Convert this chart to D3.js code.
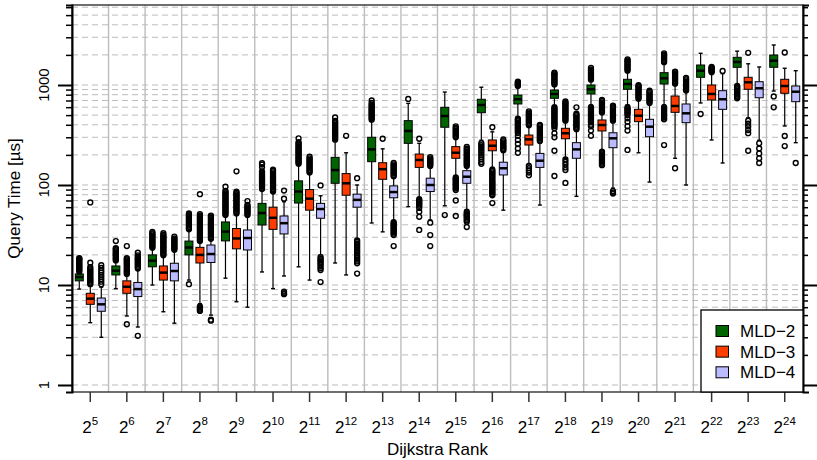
<!DOCTYPE html>
<html><head><meta charset="utf-8">
<script src="https://cdn.jsdelivr.net/npm/d3@7"></script>
<style>body{margin:0;background:#fff}svg{display:block}</style>
</head><body>
<script>
// ---------- DATA ----------
const ranks = [5,6,7,8,9,10,11,12,13,14,15,16,17,18,19,20,21,22,23,24];
const seriesNames = ["MLD\u22122", "MLD\u22123", "MLD\u22124"];
const seriesColors = ["#006400", "#ff3d00", "#bbbbff"];
const yMajorLabels = ["1", "10", "100", "1000"];
const xTitle = "Dijkstra Rank";
const yTitle = "Query Time [\u00b5s]";

// [lower whisker, q1, median, q3, upper whisker]
const mld2Stats = [
 [9.1,11.0,12.0,12.9,13.5],[9.2,12.6,13.9,15.5,17],[10,15.2,17.5,20,23],[11.2,20,23.7,27.5,35],
 [11.7,27.6,34.2,42.7,49],[13.5,39.8,52.4,65.5,89],[15.2,66,86,110,158],[16.6,104,141,189,282],
 [41.7,171,227,300,437],[60.7,261,347,440,655],[62,378,490,598,850],[280,528,631,720,950],
 [479,646,720,794,960],[620,736,813,891,977],[631,813,906,1000,1096],[631,906,1023,1140,1350],
 [630,1023,1167,1328,1660],[661,1194,1390,1585,2075],[1000,1503,1698,1892,2180],[870,1503,1750,1995,2512]
];
const mld2Outliers = [
 [13.6,14.0,14.4,14.8,15.2,15.6,16.0,16.4,16.9,17.4,17.9,18.3,18.6],
 [17.6,18.1,18.6,19.1,19.6,20.1,20.6,21.1,21.7,22.3,22.9,23.4,27.5],
 [23.6,24.3,25,25.7,26.4,27.1,27.9,28.7,29.5,30.3,31.2,32.1,33,34],
 [10.2,36,37,38.1,39.2,40.3,41.5,42.7,43.9,45.2,46.5,47.8,49.2,50.6,52],
 [50,51.5,53,54.6,56.2,57.9,59.6,61.4,63.2,65.1,67,69,71,73.2,75.3,77.6,79.9,82.3,84.7,87.3,96],
 [91,94,97,100,103,106,109,112,115,118.5,122,125.5,129,133,137,151,160,165],
 [163,168,173,178,183,188.5,194,200,206,212,218,224,231,238,245,252,260,268,293],
 [284,292,300,309,318,327,337,347,357,368,379,390,402,414,426,438,473],
 [450,464,478,492,507,522,538,554,570,587,604,622,641,661,700],
 [725],
 [50],
 [262,250,240,230,220,210,200,190,180,170,163],
 [975,1000,1020,1040,1060,1080,460,447,434,421,409,397,385,374,363,352,342,332,310,282,257,232,210],
 [1010,1040,1070,1100,1130,1165,1200,1235,1270,1300,1330,600,583,566,550,534,518,503,489,475,461,448,435,422,410,398,386,369,329,300,220,123],
 [1130,1165,1200,1235,1270,1310,1350,1390,1430,1486,600,583,566,550,534,518,503,489,475,461,448,435,422,400,386,350,310],
 [1390,1430,1475,1520,1565,1610,1660,1710,1760,1807,600,583,566,550,534,518,500,465,430,386,350,224],
 [1690,1740,1790,1840,1895,1950,2010,2075,600,583,566,550,534,518,503,489,475,461,454,251],
 [513],
 [980,955,930,905,880,855,830,805,780,760,736],
 [768,598]
];
const mld3Stats = [
 [4.2,6.41,7.3,8.26,9.8],[4.9,8.26,9.6,11.0,12.6],[5.4,11.2,13.3,15.5,19.5],[6.5,16.6,20,23.8,27],
 [6.8,23.0,29.2,36.7,51],[9.2,36,47,60,83],[11.2,56,73,90,130],[12.6,79,104,130,210],
 [34,114,144,167,230],[74,150,178,204,261],[123,185,210,242,290],[150,220,247,282,340],
 [162,251,286,316,380],[185,290,329,369,427],[224,347,398,447,525],[210,430,493,571,708],
 [185,533,617,776,1000],[282,708,813,1000,1318],[470,906,1064,1194,1630],[389,826,977,1140,1470]
];
const mld3Outliers = [
 [10.2,10.5,10.8,11.1,11.4,11.7,12.1,12.5,12.9,13.3,13.7,14.1,14.6,15.1,16.7,67],
 [4.05,12.9,13.3,13.7,14.1,14.6,15.1,15.6,16.1,16.6,17.1,17.6,18.1,18.6,24.5],
 [19.8,20.4,21,21.6,22.2,22.9,23.6,24.3,25,25.8,26.6,27.4,28.2,29,29.9,30.8,31.7,33],
 [5.5,5.65,5.8,5.95,6.1,27.5,28.3,29.1,30,30.9,31.8,32.8,33.8,34.8,35.8,36.9,38,39.1,40.3,41.5,42.7,44,45.3,46.7,48.1,49.5,51,81],
 [52,53.6,55.2,56.8,58.5,60.3,62.1,64,65.9,67.9,69.9,72,74.2,76.4,78.7,81,83.5,86,137],
 [86,88.6,91.3,94,96.8,99.7,102.7,105.8,109,112.3,115.6,119,122.6,126.3,130,134,138,142],
 [133,137,141,145.5,150,154.5,159,164,169,174,179,185,192],
 [310],
 [290],
 [35.5,48,54,59,62,64,66,68,70,72,290],
 [300,310,320,330,340,350,361,372,386,49,70,89,92,95,98,101,104,107,110,113,116,119],
 [66,79,81.5,84,86.5,89,92,95,98,101,104,107,110,114,118,122,126,130,134,138,142,378],
 [395,407,419,432,445,458,472,486,500,515,530,545,125,133,140,147,155],
 [440,453,467,481,495,510,525,541,557,574,591,609,627,646,665,685,105,141,150,160,170,180],
 [530,546,562,579,596,614,632,651,670,690,708,158,163,168,173,178,184,190,196,202,208,215],
 [730,752,775,798,822,847,872,898,925,952,980,995],
 [1030,1061,1093,1126,1160,1195,1231,1268,1306,1345,1358,147],
 [1340,1370,1400,1430,1460,1490,1514],
 [220,330,355,385,410,440,2100],
 [245,309,2113]
];
const mld4Stats = [
 [3.0,5.46,6.41,7.41,9.5],[3.8,7.66,9.1,10.6,14.1],[4.15,11,13.8,16.5,21.9],[5.0,16.8,20.4,25.1,28],
 [6.0,22.4,29.5,35.5,49],[12.3,32.4,41.5,49,68],[20,46.5,57.5,65.5,78],[29,60,71,81,100],
 [43.6,74.5,85,98,117],[44.7,86,100,117,150],[56,104,121,139,151],[56,126,147,169,214],
 [63,150,175,207,263],[77,185,227,265,347],[93,236,293,333,427],[107,304,383,454,646],
 [100,420,521,646,851],[166,571,720,877,1300],[280,746,927,1079,1514],[265,681,857,977,1390]
];
const mld4Outliers = [
 [10.2,10.8,11.4,12,12.6,13.3,14,14.8,15.8],
 [3.1,14.6,15.1,15.6,16.1,16.6,17.1,17.6,18.1,18.6,19.2,19.8,21],
 [22.5,23.2,23.9,24.6,25.3,26,26.8,27.6,28.4,29.2,30.5],
 [4.4,4.5,29,30,31,32,33,34,35,36.1,37.2,38.3,39.4,40.6,41.8,43,44.3,45.6,47,48.4,49.5],
 [50,51.5,53,54.6,56.2,57.9,59.6,61.4,63.2,69],
 [8.1,8.3,8.6,73,88],
 [10.7,14.1,14.7,15.3,15.9,16.5,17.1,17.7,18.3,19,99],
 [13,16.5,17.2,17.9,18.6,19.3,20,20.8,21.6,22.4,23.3,24.2,25.1,26,27,28,117],
 [122,126,130,134,138,142.5,147,151.5,156,161,166,24.5,31.6,32.6,33.6,34.6,35.6,36.7,37.8,38.9,40,41.2,42.4],
 [24.5,31.6,42,155,159,163,167,171,175,180,185,190],
 [155,160,165,170,175,180,186,192,198,204,210,217,224,231,240,38,43,44.5,46,47.5,49,50.5,52,54],
 [222,229,236,243,250,258,266,275,285],
 [275,284,293,302,312,322,332,343,354,365,377,389,398],
 [360,371,382,394,406,418,431,444,458,472,486,501,516,598],
 [440,453,467,481,495,510,525,541,557,574,591,609,620,82,84,87],
 [660,680,700,720,740,762,784,807,830,855,877],
 [880,906,933,961,990,1020,1050,1081,1113,1146,1180],
 [1380],
 [166,185,207,232,261],
 [166]
];

// ---------- LAYOUT ----------
const W = 817, H = 460;
const P = {left: 72, right: 803, top: 5, bottom: 392};
const FONT = "'Liberation Sans', Arial, Helvetica, sans-serif";

const svg = d3.select("body").append("svg")
  .attr("width", W).attr("height", H)
  .style("font-family", FONT);

const x = d3.scaleBand().domain(ranks).range([P.left, P.right]).padding(0);
const xs = d3.scaleBand().domain(seriesNames).range([-16.5, 16.5]).padding(0);
const y = d3.scaleLog().domain([0.851, 6310]).range([P.bottom, P.top]);

const gridVals = [];
for (let e = 0; e <= 3; e++) for (let m = 1; m <= 9; m++) {
  const v = m * Math.pow(10, e);
  if (v <= y.domain()[1]) gridVals.push(v);
}
const isMajor = v => Math.abs(Math.log10(v) - Math.round(Math.log10(v))) < 1e-9;

svg.append("g").selectAll("line").data(gridVals).join("line")
  .attr("x1", P.left).attr("x2", P.right)
  .attr("y1", d => y(d)).attr("y2", d => y(d))
  .attr("stroke", "#bcbcbc").attr("stroke-width", 1)
  .attr("stroke-dasharray", "6,4");

svg.append("g").selectAll("line").data(ranks.slice(1)).join("line")
  .attr("x1", d => x(d)).attr("x2", d => x(d))
  .attr("y1", P.top).attr("y2", P.bottom)
  .attr("stroke", "#bdbdbd").attr("stroke-width", 1.4);

// ---------- BOXES ----------
const allStats = [mld2Stats, mld3Stats, mld4Stats];
const allOut = [mld2Outliers, mld3Outliers, mld4Outliers];
const BW = 8, SW = 4;
const gBoxes = svg.append("g");
seriesNames.forEach((s, si) => {
  ranks.forEach((r, i) => {
    const st = allStats[si][i];
    const cx = x(r) + x.bandwidth() / 2 + xs(s) + xs.bandwidth() / 2;
    const g = gBoxes.append("g");
    g.append("line").attr("x1", cx).attr("x2", cx).attr("y1", y(st[0])).attr("y2", y(st[1]))
      .attr("stroke", "#000").attr("stroke-width", 1.2);
    g.append("line").attr("x1", cx).attr("x2", cx).attr("y1", y(st[3])).attr("y2", y(st[4]))
      .attr("stroke", "#000").attr("stroke-width", 1.2);
    [st[0], st[4]].forEach(v => {
      g.append("line").attr("x1", cx - SW / 2).attr("x2", cx + SW / 2)
        .attr("y1", y(v)).attr("y2", y(v)).attr("stroke", "#000").attr("stroke-width", 1.4);
    });
    g.append("rect").attr("x", cx - BW / 2).attr("width", BW)
      .attr("y", y(st[3])).attr("height", y(st[1]) - y(st[3]))
      .attr("fill", seriesColors[si]).attr("stroke", "#000").attr("stroke-width", 1);
    g.append("line").attr("x1", cx - BW / 2).attr("x2", cx + BW / 2)
      .attr("y1", y(st[2])).attr("y2", y(st[2]))
      .attr("stroke", "#000").attr("stroke-width", 2.5);
    g.selectAll("circle").data(allOut[si][i]).join("circle")
      .attr("cx", cx).attr("cy", d => y(d)).attr("r", 2.45)
      .attr("fill", "none").attr("stroke", "#000").attr("stroke-width", 1.4);
  });
});

// ---------- AXES ----------
svg.append("rect").attr("x", P.left).attr("y", P.top)
  .attr("width", P.right - P.left).attr("height", P.bottom - P.top)
  .attr("fill", "none").attr("stroke", "#222").attr("stroke-width", 1.3);

const yAxisL = d3.axisLeft(y).tickValues(gridVals).tickSize(6).tickFormat("");
const gL = svg.append("g").attr("transform", `translate(${P.left},0)`).call(yAxisL);
gL.select(".domain").attr("stroke", "#000").attr("stroke-width", 2);
gL.selectAll(".tick line").attr("stroke", "#000")
  .attr("x2", d => isMajor(d) ? -14 : -6)
  .attr("stroke-width", d => isMajor(d) ? 2 : 1.5);

const yAxisR = d3.axisRight(y).tickValues(gridVals).tickSize(6).tickFormat("");
const gR = svg.append("g").attr("transform", `translate(${P.right},0)`).call(yAxisR);
gR.select(".domain").attr("stroke", "#000").attr("stroke-width", 2);
gR.selectAll(".tick line").attr("stroke", "#000")
  .attr("x2", d => isMajor(d) ? 14 : 5)
  .attr("stroke-width", d => isMajor(d) ? 2 : 1.5);

const majors = gridVals.filter(isMajor);
svg.append("g").selectAll("text").data(majors).join("text")
  .attr("transform", d => `translate(48.5,${y(d)}) rotate(-90)`)
  .attr("text-anchor", "middle")
  .attr("font-size", 15).attr("fill", "#000")
  .text((d, i) => yMajorLabels[i]);

const xAxis = d3.axisBottom(x).tickSize(10).tickFormat("");
const gB = svg.append("g").attr("transform", `translate(0,${P.bottom})`).call(xAxis);
gB.select(".domain").remove();
gB.selectAll(".tick line").attr("stroke", "#333").attr("stroke-width", 1.5);
gB.selectAll(".tick").append("text")
  .attr("y", 40.7).attr("fill", "#000").attr("text-anchor", "middle")
  .attr("font-size", 17)
  .each(function(d) {
    const t = d3.select(this);
    t.append("tspan").text("2");
    t.append("tspan").attr("dy", -7.5).attr("font-size", 11.5).text(d);
  });

svg.append("text").attr("x", (P.left + P.right) / 2).attr("y", 455)
  .attr("text-anchor", "middle").attr("font-size", 17).text(xTitle);
svg.append("text").attr("transform", `translate(20,${(P.top + P.bottom) / 2}) rotate(-90)`)
  .attr("text-anchor", "middle").attr("font-size", 17).text(yTitle);

// ---------- LEGEND ----------
const lg = svg.append("g");
lg.append("rect").attr("x", 701).attr("y", 310).attr("width", P.right - 701).attr("height", P.bottom - 310)
  .attr("fill", "#fff").attr("stroke", "#000").attr("stroke-width", 1.3);
const ly = d3.scalePoint().domain(seriesNames).range([331, 372.3]);
seriesNames.forEach((s, i) => {
  lg.append("rect").attr("x", 716).attr("y", ly(s) - 5.5).attr("width", 12.5).attr("height", 11)
    .attr("fill", seriesColors[i]).attr("stroke", "#000").attr("stroke-width", 1);
  lg.append("text").attr("x", 740).attr("y", ly(s) + 6).attr("font-size", 17).text(s);
});
</script>
</body></html>
